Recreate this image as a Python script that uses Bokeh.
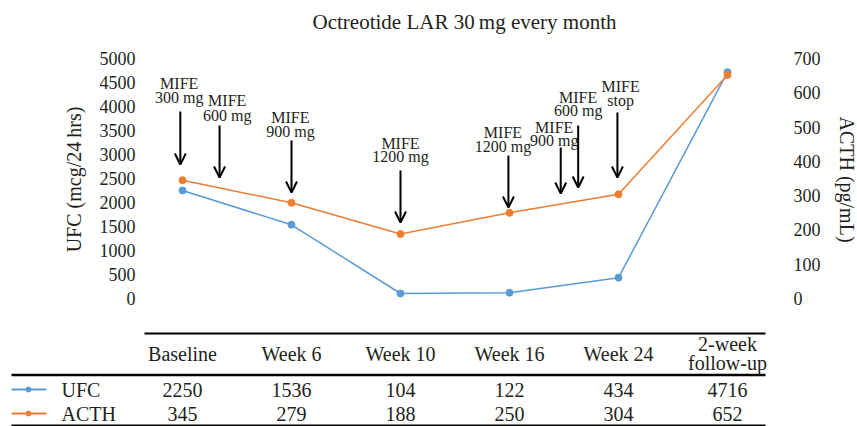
from bokeh.plotting import figure
from bokeh.models import (Range1d, LinearAxis, FixedTicker, Arrow, OpenHead,
                          ColumnDataSource)
from bokeh.embed import file_html
from bokeh.resources import INLINE
from bokeh.core.properties import value

# ---------------- data ----------------
categories = ["Baseline", "Week 6", "Week 10", "Week 16", "Week 24", "2-week\nfollow-up"]
ufc = [2250, 1536, 104, 122, 434, 4716]
acth = [345, 279, 188, 250, 304, 652]
ufc_ticks = [0, 500, 1000, 1500, 2000, 2500, 3000, 3500, 4000, 4500, 5000]
acth_ticks = [0, 100, 200, 300, 400, 500, 600, 700]

# mifepristone dose annotations (position in category units, UFC units)
mife_dose = ["300 mg", "600 mg", "900 mg", "1200 mg", "1200 mg", "900 mg", "600 mg", "stop"]
mife_arrow_x = [-0.02, 0.34, 1.0, 2.0, 2.99, 3.47, 3.63, 3.99]
mife_arrow_top = [3896, 3604, 3292, 2667, 2979, 3146, 3604, 3875]
mife_arrow_tip = [2792, 2521, 2208, 1583, 1896, 2188, 2313, 2521]
mife_text_x = [-0.03, 0.41, 0.99, 2.0, 2.94, 3.41, 3.63, 4.02]
mife_line1_y = [4479, 4125, 3771, 3229, 3458, 3562, 4188, 4417]
mife_line2_y = [4188, 3812, 3479, 2958, 3167, 3292, 3917, 4125]

# ---------------- layout constants ----------------
W = 857
X0 = 182.0      # pixel of first category
DX = 109.0      # pixels per category
FRAME_L = 143
FRAME_R = 785
FRAME_H = 278
TOP_B = 40
TAB_H = 108
FONT = "Liberation Serif"
INK = "#231f20"
BLUE = "#5B9BD5"
ORANGE = "#ED7D31"

def px_to_idx(px):
    return (px - X0) / DX

xs = list(range(len(categories)))

# ---------------- chart ----------------
p = figure(frame_width=FRAME_R - FRAME_L, frame_height=FRAME_H,
           output_backend="svg", toolbar_location=None,
           x_range=Range1d(px_to_idx(FRAME_L), px_to_idx(FRAME_R)),
           y_range=Range1d(-416.7, 5375),
           x_axis_location=None,
           title="Octreotide LAR 30\u2009mg every month",
           min_border_left=FRAME_L, min_border_right=W - FRAME_R,
           min_border_top=TOP_B, min_border_bottom=0)
p.extra_y_ranges = {"acth": Range1d(-58.33, 752.5)}
p.outline_line_color = None
p.grid.visible = False
p.background_fill_color = None
p.border_fill_color = None

p.title.align = "center"
p.title.text_font = FONT
p.title.text_font_size = "21px"
p.title.text_font_style = "normal"
p.title.text_color = INK
p.title.standoff = 13

ly = p.yaxis[0]
ly.ticker = FixedTicker(ticks=ufc_ticks)
ly.axis_label = "UFC (mcg/24\u2009hrs)"
ry = LinearAxis(y_range_name="acth", ticker=FixedTicker(ticks=acth_ticks),
                axis_label="ACTH (pg/mL)")
p.add_layout(ry, "right")
for ax in (ly, ry):
    ax.axis_line_color = None
    ax.major_tick_line_color = None
    ax.minor_tick_line_color = None
    ax.major_tick_out = 0
    ax.major_tick_in = 0
    ax.major_label_text_font = FONT
    ax.major_label_text_font_size = "18px"
    ax.major_label_text_color = INK
    ax.major_label_standoff = 8
    ax.axis_label_text_font = FONT
    ax.axis_label_text_font_size = "20px"
    ax.axis_label_text_font_style = "normal"
    ax.axis_label_text_color = INK
    ax.axis_label_standoff = 12

p.line(xs, ufc, line_color=BLUE, line_width=1.5)
p.scatter(xs, ufc, size=7, fill_color=BLUE, line_color=BLUE)
p.line(xs, acth, line_color=ORANGE, line_width=1.5, y_range_name="acth")
p.scatter(xs, acth, size=7, fill_color=ORANGE, line_color=ORANGE, y_range_name="acth")

asrc = ColumnDataSource(dict(x0=mife_arrow_x, y0=mife_arrow_top,
                             y1=mife_arrow_tip))
p.add_layout(Arrow(source=asrc, x_start="x0", y_start="y0", x_end="x0", y_end="y1",
                   line_width=2, line_color="black",
                   end=OpenHead(size=11, line_width=2, line_color="black")))
p.text(mife_text_x, mife_line1_y, text=["MIFE"] * len(mife_dose),
       text_font=value(FONT), text_font_size="16px", text_align="center",
       text_baseline="middle", text_color=INK)
p.text(mife_text_x, mife_line2_y, text=mife_dose,
       text_font=value(FONT), text_font_size="16px", text_align="center",
       text_baseline="middle", text_color=INK)

# ---------------- table ----------------
t = figure(width=W, height=TAB_H, output_backend="svg", toolbar_location=None,
           x_range=Range1d(px_to_idx(0), px_to_idx(W)),
           y_range=Range1d(TAB_H, 0),
           x_axis_location=None, y_axis_location=None,
           min_border=0)
t.outline_line_color = None
t.grid.visible = False
t.background_fill_color = None
t.border_fill_color = None

ROW_TOP, ROW_HEAD, ROW_RULE, ROW_UFC, ROW_ACTH, ROW_BOT = 15, 35, 56.5, 71, 95, 106.8

# rules
t.segment(x0=[px_to_idx(144), px_to_idx(11), px_to_idx(11)],
          x1=[px_to_idx(765)] * 3,
          y0=[ROW_TOP, ROW_RULE, ROW_BOT], y1=[ROW_TOP, ROW_RULE, ROW_BOT],
          line_color="black", line_width=[2, 2.5, 1.4])

t.text(xs, [ROW_HEAD] * len(xs), text=categories, text_font=value(FONT),
       text_font_size="20px", text_align="center", text_baseline="middle",
       text_line_height=0.85, text_color=INK)
t.text(xs, [ROW_UFC] * len(xs), text=[str(v) for v in ufc], text_font=value(FONT),
       text_font_size="20px", text_align="center", text_baseline="middle",
       text_color=INK)
t.text(xs, [ROW_ACTH] * len(xs), text=[str(v) for v in acth], text_font=value(FONT),
       text_font_size="20px", text_align="center", text_baseline="middle",
       text_color=INK)

# legend keys
t.segment(x0=[px_to_idx(11)] * 2, x1=[px_to_idx(46)] * 2,
          y0=[ROW_UFC, ROW_ACTH], y1=[ROW_UFC, ROW_ACTH],
          line_color=[BLUE, ORANGE], line_width=2)
t.scatter([px_to_idx(28)] * 2, [ROW_UFC, ROW_ACTH], size=5,
          fill_color=[BLUE, ORANGE], line_color=[BLUE, ORANGE])
t.text([px_to_idx(61)] * 2, [ROW_UFC, ROW_ACTH], text=["UFC", "ACTH"],
       text_font=value(FONT), text_font_size="20px", text_align="left",
       text_baseline="middle", text_color=INK)

open("out.html", "w").write(file_html([p, t], INLINE))
